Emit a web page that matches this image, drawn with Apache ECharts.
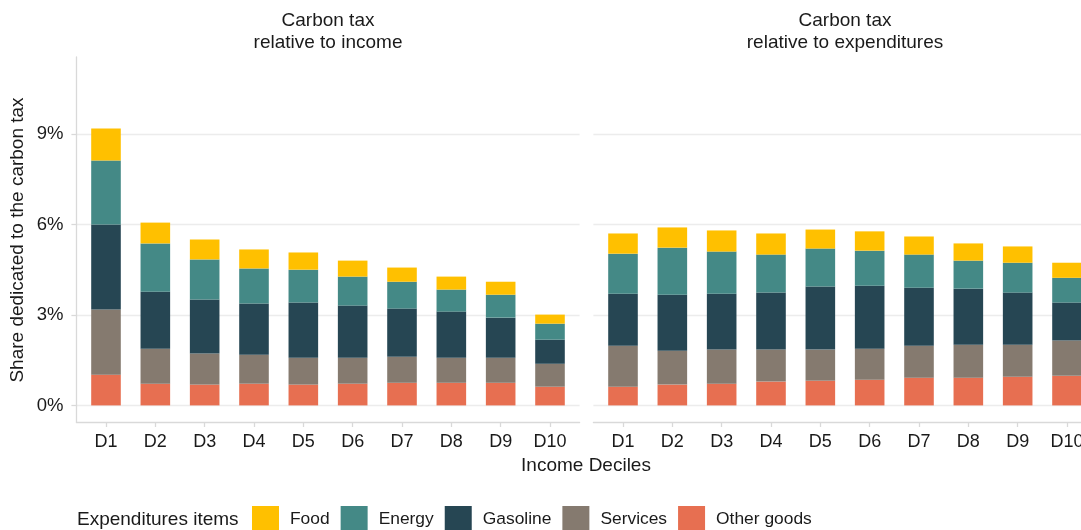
<!DOCTYPE html>
<html>
<head>
<meta charset="utf-8">
<script src="https://cdn.jsdelivr.net/npm/echarts@6/dist/echarts.min.js"></script>
<style>
html,body{margin:0;padding:0;background:#fff;}
#chart{width:1081px;height:530px;}
</style>
</head>
<body>
<div id="chart"></div>
<script>
// ---- data ----
var categories = ['D1','D2','D3','D4','D5','D6','D7','D8','D9','D10'];
var panelTitles = ['Carbon tax\nrelative to income', 'Carbon tax\nrelative to expenditures'];
var itemNames = ['Other goods','Services','Gasoline','Energy','Food']; // bottom to top
var legendOrder = ['Food','Energy','Gasoline','Services','Other goods'];
var yTicks = [0, 3, 6, 9];

// Carbon tax relative to income (% points)
var incOther    = [1.02,0.72,0.69,0.72,0.69,0.72,0.75,0.75,0.75,0.62];
var incServices = [2.16,1.16,1.03,0.96,0.89,0.86,0.86,0.83,0.83,0.76];
var incGasoline = [2.82,1.89,1.79,1.70,1.83,1.73,1.60,1.53,1.33,0.80];
var incEnergy   = [2.12,1.60,1.33,1.16,1.09,0.96,0.89,0.73,0.76,0.53];
var incFood     = [1.06,0.69,0.66,0.63,0.57,0.53,0.47,0.43,0.43,0.30];

// Carbon tax relative to expenditures (% points)
var expOther    = [0.62,0.69,0.72,0.79,0.82,0.85,0.92,0.92,0.95,0.98];
var expServices = [1.36,1.12,1.13,1.06,1.03,1.03,1.06,1.09,1.06,1.17];
var expGasoline = [1.72,1.86,1.85,1.89,2.09,2.09,1.92,1.86,1.73,1.26];
var expEnergy   = [1.33,1.56,1.40,1.26,1.26,1.16,1.10,0.93,0.99,0.82];
var expFood     = [0.67,0.67,0.70,0.70,0.63,0.64,0.60,0.57,0.54,0.50];

var colors = {
  'Food': '#FFC000',
  'Energy': '#448986',
  'Gasoline': '#264653',
  'Services': '#857A6F',
  'Other goods': '#E76F51'
};

var panels = [
  [incOther, incServices, incGasoline, incEnergy, incFood],
  [expOther, expServices, expGasoline, expEnergy, expFood]
];

// ---- layout ----
var FONT = 'Liberation Sans, Arial, Helvetica, sans-serif';
var TXT = '#1a1a1a';
var AXC = '#d9d9d9';
var GRC = '#ececec';
var panelW = 503.2, gridTop = 57, gridH = 365;
var panelLefts = [76.4, 593.4];
var step = panelW / 10.2;          // width of one category
var pad = 0.1 * step;              // extra expansion beyond half a category
var yMin = -0.55, yMax = 11.55;

var grids = [], xAxes = [], yAxes = [], series = [];
panelLefts.forEach(function(l, p){
  // background frame: gridlines, axis lines, y labels
  grids.push({left: l, top: gridTop, width: panelW, height: gridH, outerBoundsMode: 'none', containLabel: false});
  xAxes.push({
    type: 'value', gridIndex: 2 * p, min: 0, max: 1,
    axisLine: {show: true, onZero: false, lineStyle: {color: AXC, width: 1.3}},
    axisTick: {show: false}, axisLabel: {show: false}, splitLine: {show: false}
  });
  yAxes.push({
    type: 'value', gridIndex: 2 * p, min: yMin, max: yMax,
    axisLine: {show: p === 0, lineStyle: {color: AXC, width: 1.3}},
    axisTick: {show: p === 0, length: 5, customValues: yTicks, lineStyle: {color: AXC, width: 1.3}},
    axisLabel: {show: p === 0, customValues: yTicks, margin: 13, fontSize: 18.5, color: TXT, fontFamily: FONT,
      formatter: function(v){ return v + '%'; }},
    splitLine: {show: true, lineStyle: {color: GRC, width: 1.3}}
  });
  // bar grid: category axis
  grids.push({left: l + pad, top: gridTop, width: panelW - 2 * pad, height: gridH, outerBoundsMode: 'none', containLabel: false});
  xAxes.push({
    type: 'category', gridIndex: 2 * p + 1, data: categories, boundaryGap: true,
    axisLine: {show: false, onZero: false},
    axisTick: {show: true, alignWithLabel: true, length: 5, lineStyle: {color: AXC, width: 1.3}},
    axisLabel: {show: true, interval: 0, margin: 11, fontSize: 18, color: TXT, fontFamily: FONT},
    splitLine: {show: false}
  });
  yAxes.push({
    type: 'value', gridIndex: 2 * p + 1, min: yMin, max: yMax,
    axisLine: {show: false}, axisTick: {show: false}, axisLabel: {show: false}, splitLine: {show: false}
  });
  itemNames.forEach(function(name, k){
    series.push({
      name: name, type: 'bar', stack: 'p' + p,
      xAxisIndex: 2 * p + 1, yAxisIndex: 2 * p + 1,
      barWidth: '60%',
      itemStyle: {color: colors[name], borderWidth: 0},
      emphasis: {disabled: true},
      data: panels[p][k]
    });
  });
});

var graphics = [];
panelTitles.forEach(function(t, p){
  graphics.push({
    type: 'text', x: panelLefts[p] + panelW / 2, y: 10,
    style: {text: t, textAlign: 'center', textVerticalAlign: 'top', fontSize: 19, lineHeight: 22, fill: TXT, fontFamily: FONT}
  });
});
graphics.push({
  type: 'text', x: 586, y: 466,
  style: {text: 'Income Deciles', textAlign: 'center', textVerticalAlign: 'middle', fontSize: 19, fill: TXT, fontFamily: FONT}
});
graphics.push({
  type: 'text', x: 18, y: 240, rotation: Math.PI / 2,
  style: {text: 'Share dedicated to the carbon tax', textAlign: 'center', textVerticalAlign: 'middle', fontSize: 19, fill: TXT, fontFamily: FONT}
});
graphics.push({
  type: 'text', x: 77, y: 519.5,
  style: {text: 'Expenditures items', textAlign: 'left', textVerticalAlign: 'middle', fontSize: 19, fill: TXT, fontFamily: FONT}
});

var chart = echarts.init(document.getElementById('chart'), null, {renderer: 'canvas'});
chart.setOption({
  animation: false,
  backgroundColor: '#ffffff',
  grid: grids,
  xAxis: xAxes,
  yAxis: yAxes,
  legend: {
    data: legendOrder, left: 252, top: 506, orient: 'horizontal', padding: 0,
    itemWidth: 27, itemHeight: 27, itemGap: 11, icon: 'rect',
    selectedMode: false,
    textStyle: {fontSize: 17.4, color: TXT, fontFamily: FONT, padding: [0, 0, 0, 6]}
  },
  tooltip: {show: false},
  graphic: graphics,
  series: series
});
</script>
</body>
</html>
